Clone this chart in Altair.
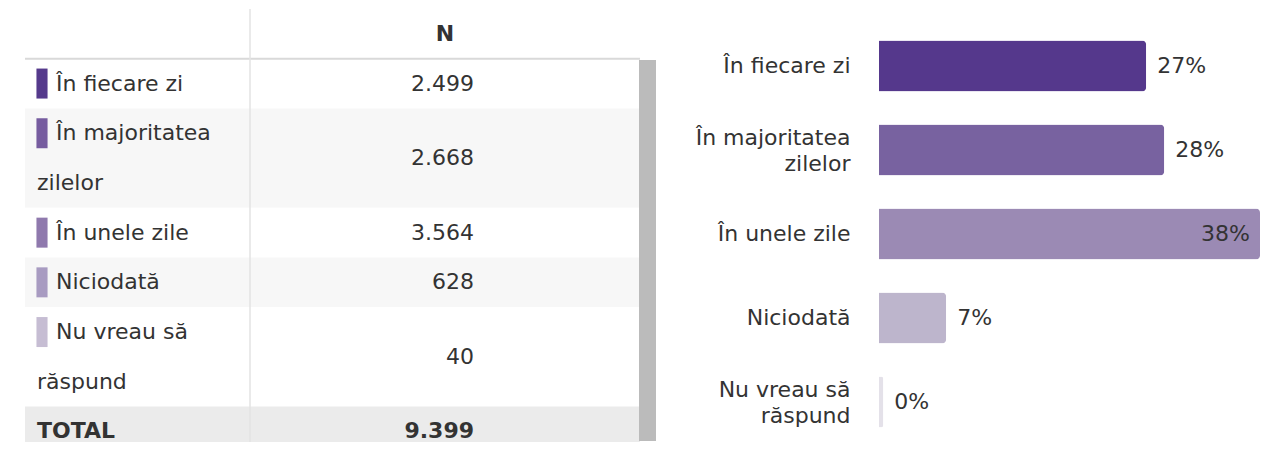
import altair as alt
import pandas as pd

# ---- data ----
label_lines = [
    ["În fiecare zi"],
    ["În majoritatea", "zilelor"],
    ["În unele zile"],
    ["Niciodată"],
    ["Nu vreau să", "răspund"],
]
counts = [2499, 2668, 3564, 628, 40]
header_label = "N"
total_label = "TOTAL"
swatch_colors = ["#553a8c", "#765c9f", "#8f79ad", "#a89bc1", "#c6bdd3"]
bar_colors = ["#55388c", "#7862a0", "#9b8ab4", "#bdb5cc", "#e4e1e9"]

FONT = "DejaVu Sans"
TXT = "#333333"
FS = 22

def fmt(n):
    return f"{n:,}".replace(",", ".")

categories = ["\n".join(l) for l in label_lines]

# ---- table layout frames (row extents in "line" units) ----
rows, lines_rows = [], []
top = 1
for i, lines in enumerate(label_lines):
    n = len(lines)
    rows.append(dict(kind="item", top=top, bottom=top + n, mid=top + n / 2,
                     first=top + 0.5, value=fmt(counts[i]),
                     fill="#f7f7f7" if i % 2 == 1 else "#ffffff",
                     swatch=swatch_colors[i], text=lines[0]))
    for j, ln in enumerate(lines[1:], start=1):
        lines_rows.append(dict(text=ln, y=top + j + 0.5))
    top += n
total_row = dict(kind="total", top=top, bottom=top + 1, mid=top + 0.5,
                 first=top + 0.5, value=fmt(sum(counts)), fill="#ebebeb",
                 swatch="#ebebeb", text=total_label)
header_row = dict(kind="header", top=0, bottom=1, mid=0.5, first=0.5,
                  value=header_label, fill="#ffffff", swatch="#ffffff", text="")

items = pd.DataFrame(rows)
allrows = pd.DataFrame(rows + [total_row])
cont = pd.DataFrame(lines_rows)
header = pd.DataFrame([header_row])
total = pd.DataFrame([total_row])

TW, TH = 647, 433
yscale = alt.Scale(domain=[0, TH / 49.7], reverse=True, nice=False, zero=False)

bg = alt.Chart(allrows).mark_rect(clip=True).encode(
    x=alt.value(17), x2=alt.value(632),
    y=alt.Y("top:Q", scale=yscale, axis=None), y2="bottom:Q",
    fill=alt.Fill("fill:N", scale=None),
)
header_line = alt.Chart(header).mark_rule(color="#d9d9d9", strokeWidth=2).encode(
    x=alt.value(17), x2=alt.value(632), y=alt.Y("bottom:Q", scale=yscale, axis=None)
)
divider = alt.Chart(header).mark_rule(color="#e3e3e3", strokeWidth=1.5).encode(
    x=alt.value(242), y=alt.value(0), y2=alt.value(TH)
)
scrollbar = alt.Chart(header).mark_rect(color="#bbbbbb").encode(
    x=alt.value(631), x2=alt.value(648), y=alt.value(51), y2=alt.value(432)
)
swatches = alt.Chart(items).mark_point(
    filled=True, opacity=1, strokeWidth=0, size=900,
    shape="M-0.37,-1H0.37V1H-0.37Z",
).encode(
    x=alt.value(34), y=alt.Y("first:Q", scale=yscale, axis=None),
    fill=alt.Fill("swatch:N", scale=None),
)
first_lines = alt.Chart(items).mark_text(
    align="left", baseline="middle", font=FONT, fontSize=FS, color=TXT
).encode(x=alt.value(48), y=alt.Y("first:Q", scale=yscale, axis=None), text="text:N")
cont_lines = alt.Chart(cont).mark_text(
    align="left", baseline="middle", font=FONT, fontSize=FS, color=TXT
).encode(x=alt.value(29), y=alt.Y("y:Q", scale=yscale, axis=None), text="text:N")
values = alt.Chart(items).mark_text(
    align="right", baseline="middle", font=FONT, fontSize=FS, color=TXT
).encode(x=alt.value(466), y=alt.Y("mid:Q", scale=yscale, axis=None), text="value:N")
total_text = alt.Chart(total).mark_text(
    align="left", baseline="middle", font=FONT, fontSize=FS, color=TXT, fontWeight="bold"
).encode(x=alt.value(29), y=alt.Y("mid:Q", scale=yscale, axis=None), text="text:N")
total_val = alt.Chart(total).mark_text(
    align="right", baseline="middle", font=FONT, fontSize=FS, color=TXT, fontWeight="bold"
).encode(x=alt.value(466), y=alt.Y("mid:Q", scale=yscale, axis=None), text="value:N")
header_text = alt.Chart(header).mark_text(
    align="center", baseline="middle", font=FONT, fontSize=FS, color=TXT, fontWeight="bold"
).encode(x=alt.value(437), y=alt.Y("mid:Q", scale=yscale, axis=None), text="value:N")

table = alt.layer(
    bg, header_line, divider, scrollbar, swatches, first_lines, cont_lines,
    values, total_text, total_val, header_text,
).properties(width=TW, height=TH)

# ---- bar chart ----
bars_df = pd.DataFrame({"cat": categories, "count": counts, "color": bar_colors})
BW = 381
ybar = alt.Y(
    "cat:N", sort=categories,
    scale=alt.Scale(paddingInner=0.393, paddingOuter=0.2738, align=0.685),
    axis=alt.Axis(title=None, domain=False, ticks=False, grid=False,
                  labelPadding=29, labelFont=FONT, labelFontSize=FS,
                  labelColor=TXT, labelLimit=0, labelLineHeight=26,
                  labelOffset={"condition": {"test": "indexof(datum.value, '\\n') >= 0",
                                             "value": -12},
                               "value": 0},
                  labelExpr="split(datum.label, '\\n')"),
)
xbar = alt.X("pct:Q", scale=alt.Scale(nice=False, zero=True), axis=None)

base = alt.Chart(bars_df).transform_joinaggregate(
    tot="sum(count)", mx="max(count)"
).transform_calculate(
    pct="datum.count / datum.tot * 100",
    ptxt="format(datum.count / datum.tot * 100, '.0f') + '%'",
)
bar = base.mark_bar(cornerRadiusEnd=4).encode(
    y=ybar, x=xbar, fill=alt.Fill("color:N", scale=None)
)
lab_out = base.transform_filter("datum.count < datum.mx").mark_text(
    align="left", baseline="middle", dx=11, font=FONT, fontSize=FS, color=TXT
).encode(y=ybar, x=xbar, text="ptxt:N")
lab_in = base.transform_filter("datum.count >= datum.mx").mark_text(
    align="right", baseline="middle", dx=-10, font=FONT, fontSize=FS, color=TXT
).encode(y=ybar, x=xbar, text="ptxt:N")

bars = alt.layer(bar, lab_out, lab_in).properties(width=BW, height=TH)

chart = alt.hconcat(table, bars, spacing=224, bounds="flush").properties(
    padding=0
).configure(font=FONT, view=alt.ViewConfig(stroke=None))

chart.save("out.html", embed_options={"renderer": "svg", "actions": False})
